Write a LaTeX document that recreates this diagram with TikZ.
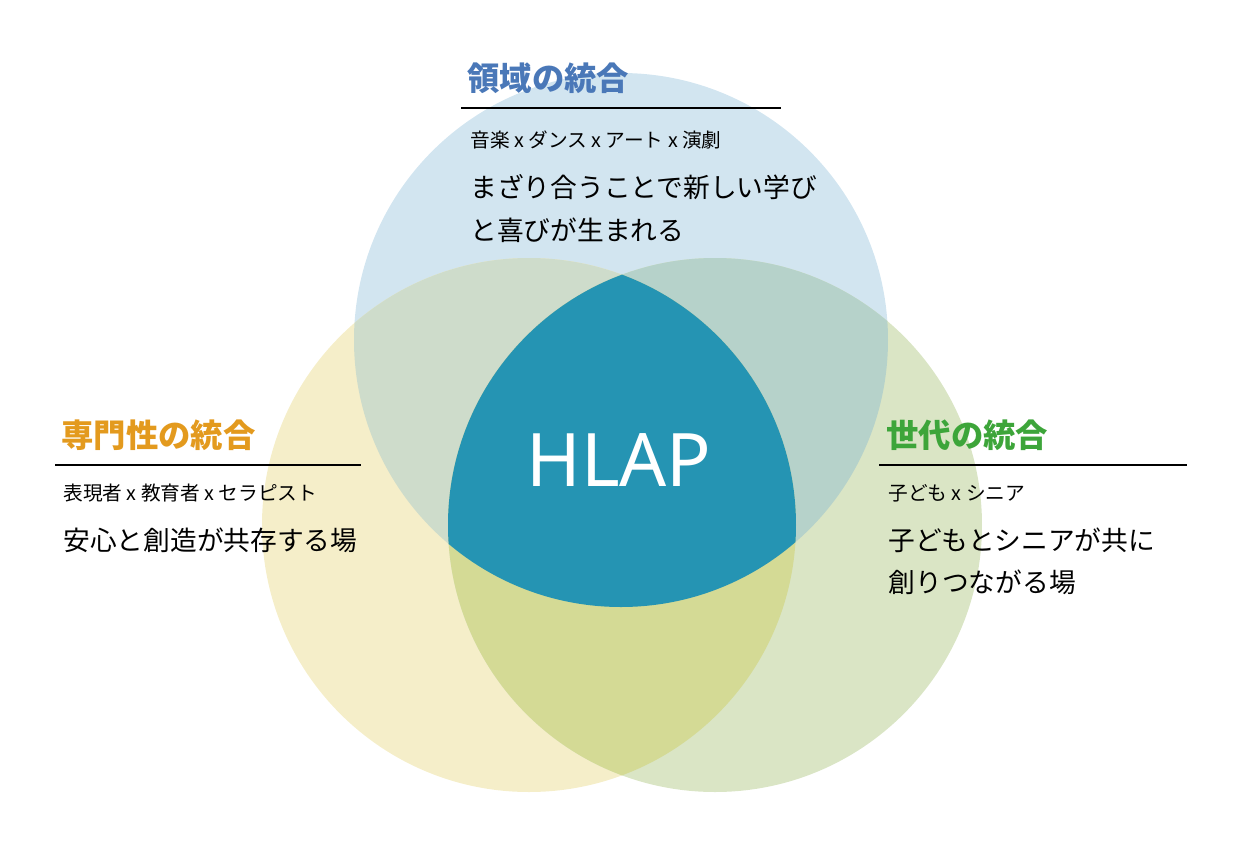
\documentclass[tikz,border=0pt]{standalone}
\usepackage{fontspec}
\setmainfont{Noto Sans CJK JP}
\newfontfamily\hl{Noto Sans}
\begin{document}
\begin{tikzpicture}[x=0.01cm,y=-0.01cm]
\definecolor{cB}{HTML}{D2E5F0}\definecolor{cY}{HTML}{F5EEC9}\definecolor{cG}{HTML}{DAE5C5}
\definecolor{cBY}{HTML}{CEDCCB}\definecolor{cBG}{HTML}{B6D2CA}\definecolor{cYG}{HTML}{D4DA95}
\definecolor{cC}{HTML}{2594B3}
\definecolor{tB}{HTML}{4A78B8}\definecolor{tO}{HTML}{E39A1E}\definecolor{tG}{HTML}{3DA53A}
\tikzset{head/.style={anchor=west,font=\fontsize{9.2}{10}\selectfont\bfseries},
 sub/.style={anchor=west,font=\fontsize{5.6}{6}\selectfont},
 body/.style={anchor=west,font=\fontsize{7.6}{8}\selectfont},
 rule/.style={line width=0.5pt,black}}
\useasboundingbox (0,0) rectangle (1241,857);
\def\cb{(621,340) circle (267)}
\def\cy{(529,525) circle (267)}
\def\cg{(715,525) circle (267)}
\fill[cB] \cb; \fill[cY] \cy; \fill[cG] \cg;
\begin{scope}\clip \cb; \fill[cBY] \cy; \end{scope}
\begin{scope}\clip \cb; \fill[cBG] \cg; \end{scope}
\begin{scope}\clip \cy; \fill[cYG] \cg; \end{scope}
\begin{scope}\clip \cb; \clip \cy; \fill[cC] \cg; \end{scope}
\node[white,font=\fontsize{21}{22}\selectfont\hl\bfseries] (hlap) at (619,460) {HLAP};
% top
\node[head,tB] (h1) at (455,78) {領域の統合};
\coordinate (l1a) at (461,108); \coordinate (l1b) at (781,108);
\draw[rule] (l1a) -- (l1b);
\node[sub] (s1) at (458,140) {音楽 x ダンス x アート x 演劇};
\node[body] (b1) at (458,187) {まざり合うことで新しい学び};
\node[body] (b1b) at (458,230) {と喜びが生まれる};
% left
\node[head,tO] (h2) at (49,435) {専門性の統合};
\coordinate (l2a) at (55,465); \coordinate (l2b) at (361,465);
\draw[rule] (l2a) -- (l2b);
\node[sub] (s2) at (51,493) {表現者 x 教育者 x セラピスト};
\node[body] (b2) at (51,540) {安心と創造が共存する場};
% right
\node[head,tG] (h3) at (874,435) {世代の統合};
\coordinate (l3a) at (879,465); \coordinate (l3b) at (1187,465);
\draw[rule] (l3a) -- (l3b);
\node[sub] (s3) at (876,493) {子ども x シニア};
\node[body] (b3) at (876,540) {子どもとシニアが共に};
\node[body] (b3b) at (876,582) {創りつながる場};
\end{tikzpicture}
\end{document}
